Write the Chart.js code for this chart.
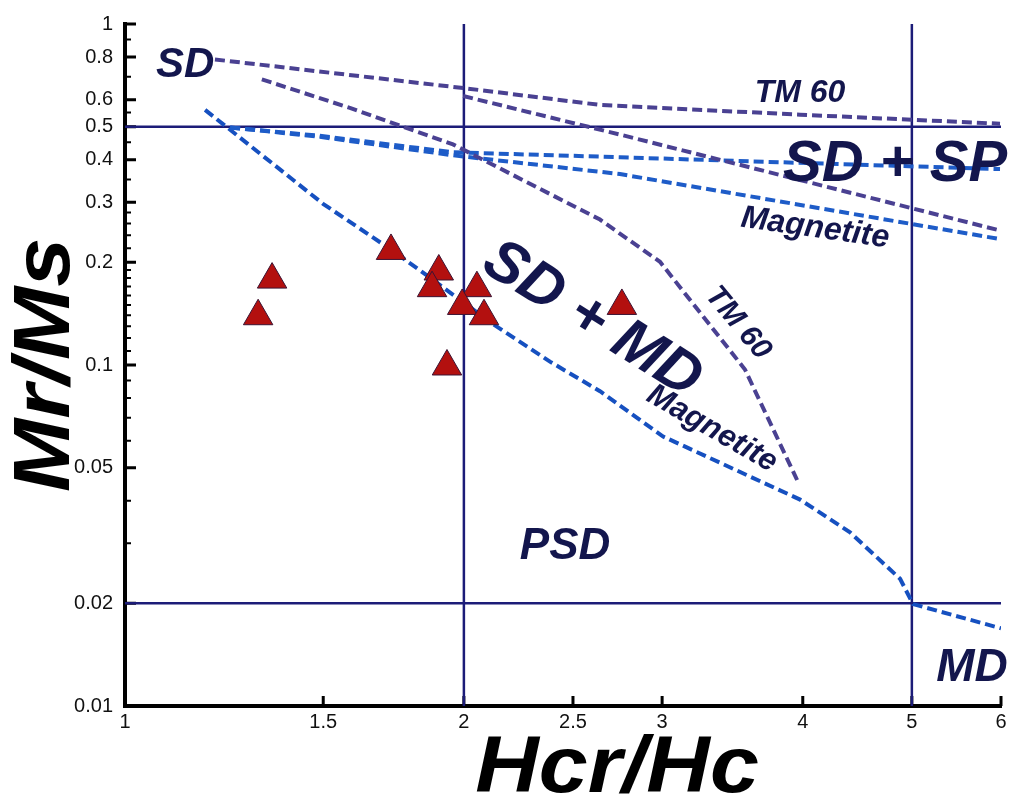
<!doctype html>
<html>
<head>
<title>Day plot Mr/Ms vs Hcr/Hc</title>
<script src="https://cdn.jsdelivr.net/npm/chart.js@4.4.1/dist/chart.umd.min.js"></script>
<style>
  * { margin: 0; padding: 0; box-sizing: border-box; }
  body { background: #fff; }
  #wrap { position: relative; width: 1029px; height: 798px; }
</style>
</head>
<body>
<div id="wrap"><canvas id="dayPlot"></canvas></div>
<script>
// axis ticks
const xTicks = [1, 1.5, 2, 2.5, 3, 4, 5, 6];
const xTickLabels = ['1', '1.5', '2', '2.5', '3', '4', '5', '6'];
const yTicks = [0.01, 0.02, 0.05, 0.1, 0.2, 0.3, 0.4, 0.5, 0.6, 0.8, 1];
const yTickLabels = ['0.01', '0.02', '0.05', '0.1', '0.2', '0.3', '0.4', '0.5', '0.6', '0.8', '1'];
const yMinorTicks = [0.9, 0.7, 0.55, 0.45, 0.35, 0.28, 0.26, 0.24, 0.22, 0.19, 0.18, 0.17, 0.16, 0.15,
                     0.14, 0.13, 0.12, 0.11, 0.09, 0.08, 0.07, 0.06, 0.04, 0.03];

// samples
const sampleHcrHc = [1.351, 1.313, 1.723, 1.900, 1.874, 2.054, 1.993, 2.084, 1.932, 2.763];
const sampleMrMs  = [0.178, 0.139, 0.216, 0.188, 0.168, 0.168, 0.149, 0.139, 0.099, 0.149];

// domain boundaries
const boundHcrHc = [2, 5];
const boundMrMs = [0.5, 0.02];

// mixing curves
const tm60SpUpperX = [1.202, 2.005, 2.642, 3.978, 5.988];
const tm60SpUpperY = [0.787, 0.648, 0.579, 0.542, 0.510];
const tm60SpLowerX = [1.997, 2.752, 5.988];
const tm60SpLowerY = [0.615, 0.474, 0.248];
const tm60MdX = [1.323, 1.584, 1.956, 2.642, 2.987, 3.308, 3.554, 3.954];
const tm60MdY = [0.688, 0.5675, 0.4435, 0.267, 0.2007, 0.131, 0.097, 0.046];
const magSpUpperX = [1.240, 1.481, 1.956, 2.752, 5.988];
const magSpUpperY = [0.497, 0.471, 0.4205, 0.4067, 0.3754];
const magSpLowerX = [1.240, 1.481, 1.956, 2.752, 5.988];
const magSpLowerY = [0.497, 0.468, 0.412, 0.363, 0.234];
const magMdX = [1.178, 1.4995, 1.720, 1.866, 2.110, 2.385, 2.642, 3.006, 3.978, 4.406, 4.881, 5.012, 6.0];
const magMdY = [0.560, 0.297, 0.2188, 0.1804, 0.1336, 0.1023, 0.0838, 0.0617, 0.0403, 0.0323, 0.0236, 0.0199, 0.0169];

// text inside the plot, anchored in data units
const noteText = ['SD', 'TM 60', 'SD + SP', 'Magnetite', 'SD + MD', 'TM 60', 'Magnetite', 'PSD', 'MD'];
const noteX = [1.131, 3.978, 4.831, 4.102, 2.600, 3.504, 3.322, 2.460, 5.655];
const noteY = [0.756, 0.627, 0.3856, 0.2518, 0.1354, 0.1327, 0.0650, 0.02924, 0.01288];

// how the notes look
const noteStyle = [
  {size: 42, angle: 0}, {size: 32, angle: 0}, {size: 58, angle: 0}, {size: 32, angle: 8},
  {size: 60, angle: 32}, {size: 30, angle: 50}, {size: 31, angle: 30}, {size: 44, angle: 0}, {size: 46, angle: 0}
];

const FONT = '"Liberation Sans", Arial, Helvetica, sans-serif';
const NAVY = '#1c1c78';
const PURPLE = '#4a4192';
const BLUE = '#1e5cc8';

function pts(xs, ys) { return xs.map((x, i) => ({x: x, y: ys[i]})); }

function curve(xs, ys, color) {
  return {
    type: 'line', data: pts(xs, ys), borderColor: color, borderWidth: 4,
    borderDash: [10, 5], pointRadius: 0, tension: 0, fill: false
  };
}

function solid(data) {
  return {
    type: 'line', data: data, borderColor: NAVY, borderWidth: 2.5,
    pointRadius: 0, tension: 0, fill: false
  };
}

const datasets = [
  {
    type: 'scatter', data: pts(sampleHcrHc, sampleMrMs),
    pointStyle: 'triangle', radius: 17, backgroundColor: '#b3100f',
    borderColor: '#3b1433', borderWidth: 1
  },
  curve(tm60SpUpperX, tm60SpUpperY, PURPLE),
  curve(tm60SpLowerX, tm60SpLowerY, PURPLE),
  curve(tm60MdX, tm60MdY, PURPLE),
  curve(magSpUpperX, magSpUpperY, BLUE),
  curve(magSpLowerX, magSpLowerY, BLUE),
  curve(magMdX, magMdY, '#1650c0')
];
boundHcrHc.forEach(v => datasets.push(solid([{x: v, y: 0.01}, {x: v, y: 1}])));
boundMrMs.forEach(v => datasets.push(solid([{x: 1, y: v}, {x: 6, y: v}])));

const overlay = {
  id: 'overlay',
  beforeDatasetsDraw(chart) {
    const {ctx, scales: {x, y}} = chart;
    ctx.save();
    ctx.strokeStyle = '#000';
    ctx.lineWidth = 3;
    ctx.beginPath();
    yTicks.forEach(v => { const p = y.getPixelForValue(v); ctx.moveTo(x.left, p); ctx.lineTo(x.left + 11, p); });
    xTicks.forEach(v => { const p = x.getPixelForValue(v); ctx.moveTo(p, y.bottom); ctx.lineTo(p, y.bottom - 10); });
    ctx.stroke();
    ctx.lineWidth = 2;
    ctx.beginPath();
    yMinorTicks.forEach(v => { const p = y.getPixelForValue(v); ctx.moveTo(x.left, p); ctx.lineTo(x.left + 6, p); });
    ctx.stroke();
    ctx.restore();
  },
  afterDatasetsDraw(chart) {
    const {ctx, scales: {x, y}} = chart;
    ctx.save();
    ctx.textAlign = 'center';
    ctx.textBaseline = 'middle';
    noteText.forEach((t, i) => {
      const st = noteStyle[i];
      ctx.save();
      ctx.translate(x.getPixelForValue(noteX[i]), y.getPixelForValue(noteY[i]));
      ctx.rotate(st.angle * Math.PI / 180);
      ctx.font = 'italic bold ' + st.size + 'px ' + FONT;
      ctx.fillStyle = '#13164d';
      ctx.fillText(t, 0, 0);
      ctx.restore();
    });
    // axis titles, a little wider than the stock font
    ctx.fillStyle = '#000';
    ctx.font = 'italic bold 80px ' + FONT;
    ctx.save();
    ctx.translate(617, 770);
    ctx.scale(1.1, 1);
    ctx.fillText('Hcr/Hc', 0, 0);
    ctx.restore();
    ctx.save();
    ctx.translate(47, (y.top + y.bottom) / 2);
    ctx.rotate(-Math.PI / 2);
    ctx.scale(1.1, 1);
    ctx.fillText('Mr/Ms', 0, 0);
    ctx.restore();
    ctx.restore();
  }
};

const ctx = document.getElementById('dayPlot').getContext('2d');
new Chart(ctx, {
  type: 'scatter',
  data: {datasets: datasets},
  options: {
    responsive: true,
    maintainAspectRatio: false,
    animation: false,
    layout: {padding: {top: 15, right: 28, left: 0, bottom: 0}},
    plugins: {legend: {display: false}, tooltip: {enabled: false}},
    scales: {
      x: {
        type: 'logarithmic', min: 1, max: 6,
        afterBuildTicks: s => { s.ticks = xTicks.map(v => ({value: v})); },
        afterFit: s => { s.height = 92; },
        grid: {display: false, drawTicks: false},
        border: {display: true, color: '#000', width: 4},
        ticks: {
          autoSkip: false, maxRotation: 0, padding: 4, color: '#111',
          font: {family: FONT, size: 20},
          callback: (v, i) => xTickLabels[i]
        }
      },
      y: {
        type: 'logarithmic', min: 0.01, max: 1,
        afterBuildTicks: s => { s.ticks = yTicks.map(v => ({value: v})); },
        afterFit: s => { s.width = 125; },
        grid: {display: false, drawTicks: false},
        border: {display: true, color: '#000', width: 4},
        ticks: {
          autoSkip: false, padding: 12, color: '#111',
          font: {family: FONT, size: 20},
          callback: (v, i) => yTickLabels[i]
        }
      }
    }
  },
  plugins: [overlay]
});
</script>
</body>
</html>
